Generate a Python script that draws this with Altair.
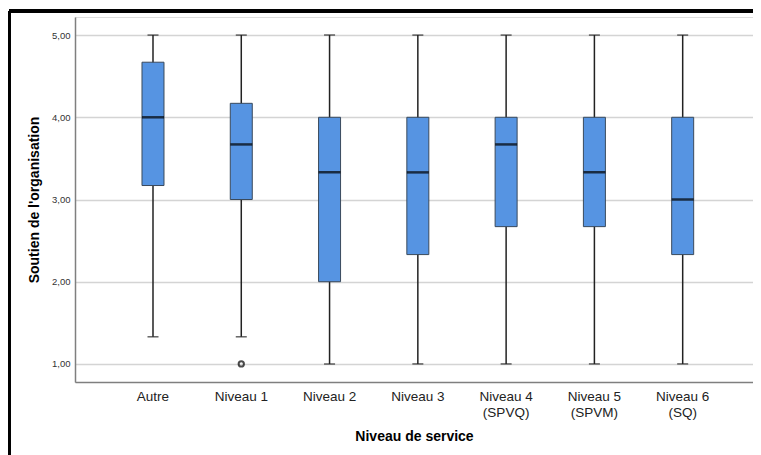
import altair as alt
import pandas as pd

categories = ["Autre", "Niveau 1", "Niveau 2", "Niveau 3", "Niveau 4|(SPVQ)", "Niveau 5|(SPVM)", "Niveau 6|(SQ)"]
mins =    [1.33, 1.33, 1.00, 1.00, 1.00, 1.00, 1.00]
q1s =     [3.17, 3.00, 2.00, 2.33, 2.67, 2.67, 2.33]
medians = [4.00, 3.67, 3.33, 3.33, 3.67, 3.33, 3.00]
q3s =     [4.67, 4.17, 4.00, 4.00, 4.00, 4.00, 4.00]
maxs =    [5.00, 5.00, 5.00, 5.00, 5.00, 5.00, 5.00]
outlier_cats = ["Niveau 1"]
outlier_vals = [1.00]
y_ticks = [1, 2, 3, 4, 5]

df = pd.DataFrame({"cat": categories, "lo": mins, "q1": q1s, "med": medians, "q3": q3s, "hi": maxs})
df_out = pd.DataFrame({"cat": outlier_cats, "v": outlier_vals})

font = "Liberation Sans"
xscale = alt.Scale(domain=categories, paddingInner=0, paddingOuter=0.34, align=0.564)
yscale = alt.Scale(domain=[0.78, 5.22], nice=False, zero=False)

x_enc = alt.X("cat:N", scale=xscale, sort=categories,
              axis=alt.Axis(title="Niveau de service", labelAngle=0, ticks=False,
                            labelExpr="split(datum.label, '|')",
                            labelFont=font, labelFontSize=13.5, labelColor="#222222",
                            labelPadding=7, labelLineHeight=16,
                            titleFont=font, titleFontSize=14, titleFontWeight="bold",
                            titleColor="#000000", titlePadding=11,
                            domainColor="#7f7f7f", domainWidth=1.5, grid=False))
y_axis = alt.Axis(title="Soutien de l'organisation", values=y_ticks, ticks=False,
                  labelExpr="replace(format(datum.value, '.2f'), '.', ',')",
                  labelFont=font, labelFontSize=9.5, labelColor="#333333", labelPadding=5,
                  titleFont=font, titleFontSize=14, titleFontWeight="bold",
                  titleColor="#000000", titlePadding=10,
                  domainColor="#7f7f7f", domainWidth=1.5,
                  grid=True, gridColor="#d4d4d4", gridWidth=1.5)

base = alt.Chart(df)

whisker = base.mark_rule(color="#222222", strokeWidth=1.5).encode(
    x=x_enc, y=alt.Y("lo:Q", scale=yscale, axis=y_axis), y2="hi:Q")
box = base.mark_bar(size=22, fill="#5694E2", stroke="#3a4a5c", strokeWidth=1).encode(
    x="cat:N", y="q1:Q", y2="q3:Q")
med = base.mark_tick(color="#000000", thickness=2.5, size=22).encode(x="cat:N", y="med:Q")
cap_lo = base.mark_tick(color="#222222", thickness=1.5, size=11).encode(x="cat:N", y="lo:Q")
cap_hi = base.mark_tick(color="#222222", thickness=1.5, size=11).encode(x="cat:N", y="hi:Q")
outl = alt.Chart(df_out).mark_point(shape="circle", size=28, filled=False,
                                    color="#000000", strokeWidth=2).encode(x="cat:N", y="v:Q")

frame_v = alt.Chart(df).mark_rule(color="#000000", strokeWidth=3).encode(
    x=alt.value(-66), y=alt.value(-6), y2=alt.value(440))
frame_h = alt.Chart(df).mark_rule(color="#000000", strokeWidth=3).encode(
    x=alt.value(-66), x2=alt.value(690), y=alt.value(-6))

chart = alt.layer(frame_v, frame_h, whisker, box, med, cap_lo, cap_hi, outl).properties(
    width=678, height=365,
    autosize=alt.AutoSizeParams(type="none"),
    padding={"left": 67, "top": 9, "right": 0, "bottom": 73},
).configure_view(stroke=None).configure(background="white")

chart.save("out.html", embed_options={"renderer": "svg", "actions": False})
